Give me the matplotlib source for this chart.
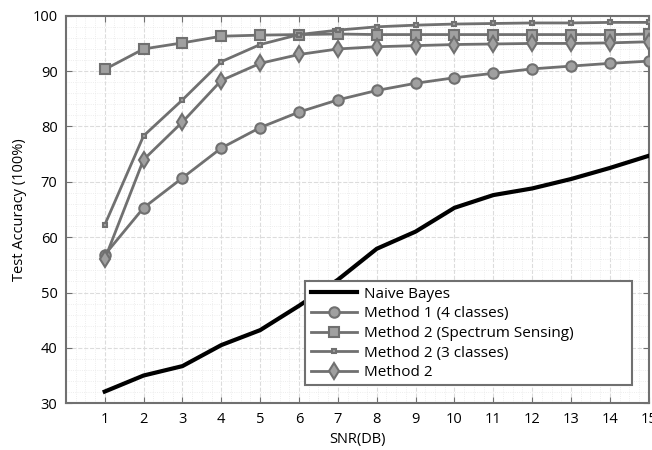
import numpy as np
import matplotlib
matplotlib.use('Agg')
import matplotlib.pyplot as plt
from matplotlib.ticker import MultipleLocator

plt.rcParams['font.family'] = ['Open Sans', 'DejaVu Sans']

#data
snr = np.arange(1, 16)
naive_bayes = [32.1, 35.0, 36.7, 40.5, 43.2, 47.6, 52.3, 57.9, 61.0, 65.3, 67.6, 68.8, 70.5, 72.5, 74.7]
method1_4cls = [56.8, 65.3, 70.7, 76.1, 79.8, 82.6, 84.8, 86.5, 87.8, 88.8, 89.6, 90.4, 90.9, 91.4, 91.8]
method2_spec = [90.3, 94.0, 95.1, 96.3, 96.5, 96.6, 96.7, 96.6, 96.6, 96.6, 96.6, 96.6, 96.6, 96.6, 96.7]
method2_3cls = [62.2, 78.3, 84.8, 91.7, 94.8, 96.6, 97.4, 98.0, 98.3, 98.5, 98.6, 98.7, 98.7, 98.8, 98.8]
method2 = [56.0, 74.0, 80.8, 88.3, 91.4, 93.0, 94.0, 94.4, 94.6, 94.8, 94.9, 95.0, 95.0, 95.1, 95.3]

grey = '#707070'
fig = plt.figure(figsize=(6.52, 4.5), dpi=100)
ax = fig.add_axes([0.101, 0.104, 0.894, 0.861])

ax.plot(snr, naive_bayes, color='k', lw=3, label='Naive Bayes', zorder=5)
mk = dict(color=grey, lw=2, mfc='#a0a0a0', mec=grey, mew=1.5, zorder=4)
ax.plot(snr, method1_4cls, marker='o', ms=7.5, label='Method 1 (4 classes)', **mk)
ax.plot(snr, method2_spec, marker='s', ms=7.5, label='Method 2 (Spectrum Sensing)', **mk)
ax.plot(snr, method2_3cls, marker='s', ms=3.5, label='Method 2 (3 classes)', **mk)
ax.plot(snr, method2, marker='d', ms=8.5, label='Method 2', **mk)

ax.set_xlim(0, 15)
ax.set_ylim(30, 100)
ax.set_xticks(snr)
ax.set_yticks(np.arange(30, 101, 10))
ax.xaxis.set_minor_locator(MultipleLocator(0.25))
ax.yaxis.set_minor_locator(MultipleLocator(2))
ax.grid(which='major', color='#dcdcdc', lw=0.8, ls='--')
ax.grid(which='minor', color='#e8e8e8', lw=0.6, ls=':')
ax.set_axisbelow(True)
ax.tick_params(which='major', direction='in', top=True, right=True, length=4,
               color=grey, labelsize=10.5, pad=6)
ax.tick_params(which='minor', length=0)
for sp in ax.spines.values():
    sp.set_color(grey)
    sp.set_linewidth(1.5)

ax.set_xlabel('SNR(DB)', fontsize=10.5, labelpad=4)
ax.set_ylabel('Test Accuracy (100%)', fontsize=10.5, labelpad=4)

leg = ax.legend(loc='lower left', bbox_to_anchor=(0.398, 0.026, 0.587, 0.284),
                mode='expand', fontsize=11, frameon=True, fancybox=False,
                edgecolor=grey, framealpha=1, handlelength=3.0,
                labelspacing=0.3, borderpad=0.35, handletextpad=0.5)
leg.get_frame().set_linewidth(1.5)
leg.set_zorder(10)

fig.savefig('out.png', dpi=100)
